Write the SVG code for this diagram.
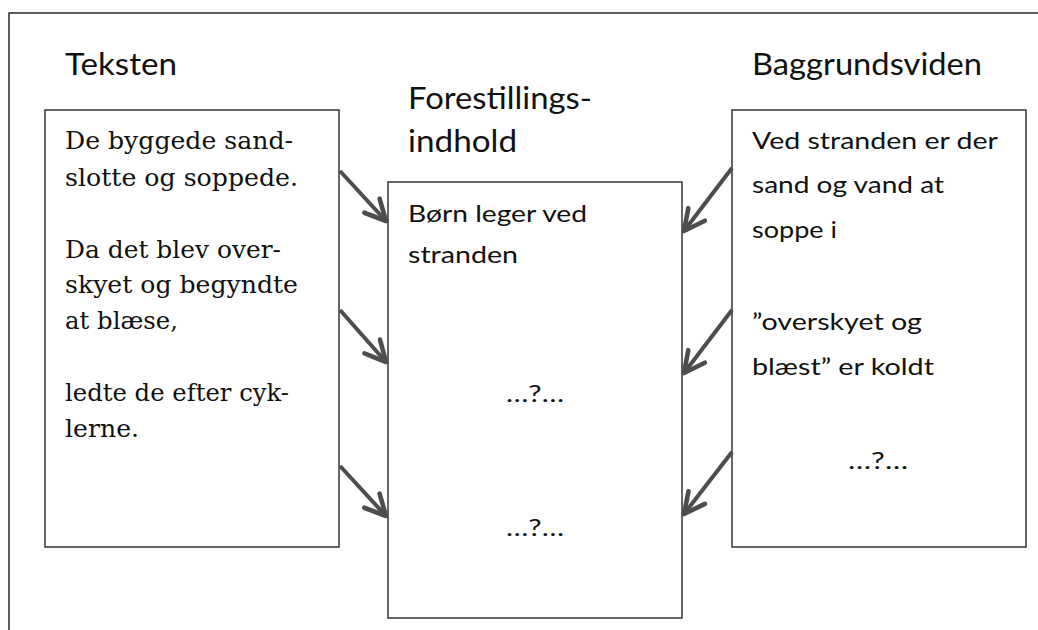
<svg xmlns="http://www.w3.org/2000/svg" width="1038" height="630" viewBox="0 0 1038 630">
<style>
.frame{fill:none;stroke:#2a2a2a;stroke-width:1.5}
.box{fill:#fff;stroke:#333;stroke-width:1.5}
.title{font-family:Lato,"Liberation Sans",Arial,sans-serif;font-size:31px;fill:#111}
.sans{font-family:Lato,"Liberation Sans",Arial,sans-serif;font-size:23px;fill:#111}
.serif{font-family:"DejaVu Serif","Liberation Serif",serif;font-size:23.5px;fill:#111}
.arrow{fill:none;stroke:#4d4d4d;stroke-width:4;marker-end:url(#head)}
</style>
<defs>
<marker id="head" markerUnits="userSpaceOnUse" markerWidth="30" markerHeight="30" viewBox="-22 -12 26 24" refX="0" refY="0" orient="auto">
<path d="M -18 -9 L 0 0 L -18 9" fill="none" stroke="#4d4d4d" stroke-width="4" stroke-linecap="round" stroke-linejoin="round"/>
</marker>
</defs>
<rect width="1038" height="630" fill="#fff"/>
<path class="frame" d="M 9 640 L 9 13 L 1050 13"/>
<g id="teksten">
<text class="title" x="65" y="75" textLength="112" lengthAdjust="spacingAndGlyphs">Teksten</text>
<rect class="box" x="45" y="110" width="294" height="437"/>
<text class="serif" x="65" y="149" textLength="228" lengthAdjust="spacingAndGlyphs">De byggede sand-</text>
<text class="serif" x="65" y="186" textLength="233" lengthAdjust="spacingAndGlyphs">slotte og soppede.</text>
<text class="serif" x="65" y="258" textLength="216" lengthAdjust="spacingAndGlyphs">Da det blev over-</text>
<text class="serif" x="65" y="293" textLength="233" lengthAdjust="spacingAndGlyphs">skyet og begyndte</text>
<text class="serif" x="65" y="329" textLength="113" lengthAdjust="spacingAndGlyphs">at blæse,</text>
<text class="serif" x="65" y="401" textLength="224" lengthAdjust="spacingAndGlyphs">ledte de efter cyk-</text>
<text class="serif" x="65" y="437" textLength="74" lengthAdjust="spacingAndGlyphs">lerne.</text>
</g>
<g id="forestillingsindhold">
<text class="title" x="408" y="109" textLength="184" lengthAdjust="spacingAndGlyphs">Forestillings-</text>
<text class="title" x="408" y="152" textLength="109" lengthAdjust="spacingAndGlyphs">indhold</text>
<rect class="box" x="388" y="182" width="294" height="436"/>
<text class="sans" x="408" y="222" textLength="179" lengthAdjust="spacingAndGlyphs">Børn leger ved</text>
<text class="sans" x="408" y="263" textLength="110" lengthAdjust="spacingAndGlyphs">stranden</text>
<text class="sans" x="506" y="402" textLength="58" lengthAdjust="spacingAndGlyphs">…?…</text>
<text class="sans" x="506" y="536" textLength="58" lengthAdjust="spacingAndGlyphs">…?…</text>
</g>
<g id="baggrundsviden">
<text class="title" x="752" y="75" textLength="230" lengthAdjust="spacingAndGlyphs">Baggrundsviden</text>
<rect class="box" x="732" y="110" width="294" height="437"/>
<text class="sans" x="752" y="149" textLength="246" lengthAdjust="spacingAndGlyphs">Ved stranden er der</text>
<text class="sans" x="752" y="193" textLength="192" lengthAdjust="spacingAndGlyphs">sand og vand at</text>
<text class="sans" x="752" y="238" textLength="85" lengthAdjust="spacingAndGlyphs">soppe i</text>
<text class="sans" x="752" y="330" textLength="170" lengthAdjust="spacingAndGlyphs">”overskyet og</text>
<text class="sans" x="752" y="375" textLength="182" lengthAdjust="spacingAndGlyphs">blæst” er koldt</text>
<text class="sans" x="848" y="469" textLength="60" lengthAdjust="spacingAndGlyphs">…?…</text>
</g>
<g id="connectors">
<line class="arrow" x1="340" y1="171" x2="386" y2="221"/>
<line class="arrow" x1="340" y1="310" x2="386" y2="362"/>
<line class="arrow" x1="340" y1="466" x2="386" y2="516"/>
<line class="arrow" x1="732" y1="168" x2="684" y2="231"/>
<line class="arrow" x1="732" y1="310" x2="684" y2="373"/>
<line class="arrow" x1="732" y1="452" x2="684" y2="514"/>
</g>
</svg>
